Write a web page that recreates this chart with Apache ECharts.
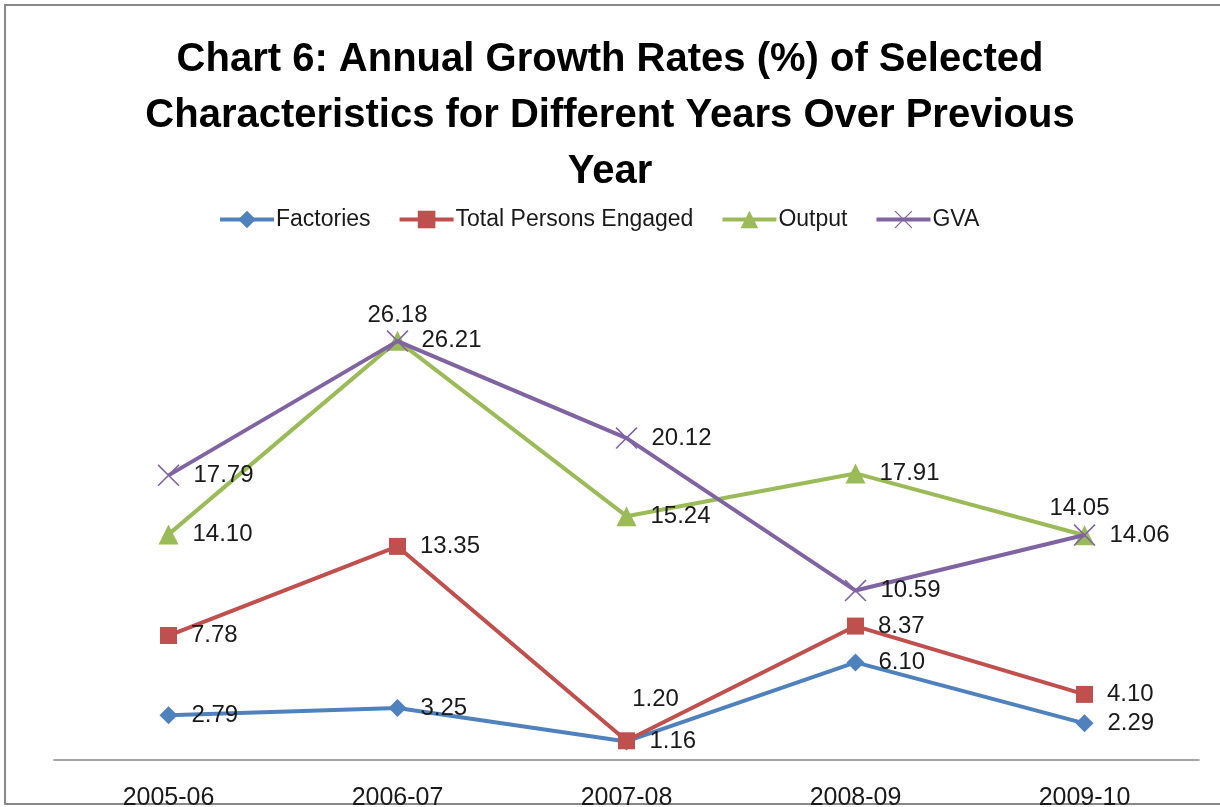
<!DOCTYPE html>
<html>
<head>
<meta charset="utf-8">
<title>Chart 6</title>
<script src="https://cdn.jsdelivr.net/npm/echarts@6/dist/echarts.min.js"></script>
<style>
  html, body { margin: 0; padding: 0; background: #fff; }
  #main { width: 1220px; height: 807px; }
</style>
</head>
<body>
<div id="main"></div>
<script>
const years = ['2005-06', '2006-07', '2007-08', '2008-09', '2009-10']
const factories = [2.79, 3.25, 1.16, 6.10, 2.29]
const persons = [7.78, 13.35, 1.20, 8.37, 4.10]
const output = [14.10, 26.21, 15.24, 17.91, 14.05]
const gva = [17.79, 26.18, 20.12, 10.59, 14.06]

const FONT = '"Liberation Sans", Arial, sans-serif'
const crossPath = 'path://M0,0.5L0.5,0L10,9.5L9.5,10Z M9.5,0L10,0.5L0.5,10L0,9.5Z'

const labelBase = {
  show: true,
  position: 'right',
  distance: 14,
  color: '#1a1a1a',
  fontSize: 24,
  fontFamily: FONT,
  formatter: p => p.value.toFixed(2)
}

// a few labels sit above the point rather than to the right
function labelled(values, special) {
  return values.map((v, i) => special[i] ? { value: v, label: special[i] } : v)
}

const chart = echarts.init(document.getElementById('main'))
chart.setOption({
  animation: false,
  graphic: [{
    type: 'rect',
    shape: { x: 5, y: 5, width: 1240, height: 799 },
    style: { fill: 'none', stroke: '#888', lineWidth: 2 },
    silent: true
  }],
  title: {
    text: 'Chart 6: Annual Growth Rates (%) of Selected\nCharacteristics for Different Years Over Previous\nYear',
    left: 'center',
    top: 27,
    textStyle: {
      fontFamily: FONT,
      fontWeight: 'bold',
      fontSize: 40,
      lineHeight: 56,
      color: '#000'
    }
  },
  legend: {
    top: 203,
    left: 213,
    itemWidth: 54,
    itemHeight: 22,
    itemGap: 27,
    lineStyle: { width: 4 },
    textStyle: { fontFamily: FONT, fontSize: 23, color: '#1a1a1a', padding: [0, 0, 0, -3] },
    data: ['Factories', 'Total Persons Engaged', 'Output', 'GVA']
  },
  grid: { left: 54, right: 21, top: 280, bottom: 47, outerBoundsMode: 'none' },
  xAxis: {
    type: 'category',
    data: years,
    boundaryGap: true,
    axisLine: { lineStyle: { color: '#888', width: 1.5 } },
    axisTick: { show: false },
    axisLabel: { color: '#1a1a1a', fontSize: 25, fontFamily: FONT, margin: 26 }
  },
  yAxis: {
    type: 'value',
    min: 0,
    max: 30,
    interval: 5,
    show: false,
    splitLine: { show: false }
  },
  series: [
    {
      name: 'Factories',
      type: 'line',
      data: factories,
      color: '#4F81BD',
      lineStyle: { width: 4 },
      symbol: 'diamond',
      symbolSize: 18,
      label: labelBase,
      z: 2
    },
    {
      name: 'Total Persons Engaged',
      type: 'line',
      data: labelled(persons, [null, null, { position: 'top', distance: 21, offset: [29, 0] }, null, null]),
      color: '#C0504D',
      lineStyle: { width: 4 },
      symbol: 'rect',
      symbolSize: 17,
      label: labelBase,
      z: 3
    },
    {
      name: 'Output',
      type: 'line',
      data: labelled(output, [null, null, null, null, { position: 'top', distance: 5, offset: [-5, 0] }]),
      color: '#9BBB59',
      lineStyle: { width: 4 },
      symbol: 'triangle',
      symbolSize: 20,
      label: labelBase,
      z: 2
    },
    {
      name: 'GVA',
      type: 'line',
      data: labelled(gva, [null, { position: 'top', distance: 3 }, null, null, null]),
      color: '#8064A2',
      lineStyle: { width: 4 },
      symbol: crossPath,
      symbolSize: 22,
      label: labelBase,
      z: 5
    }
  ]
})
</script>
</body>
</html>
